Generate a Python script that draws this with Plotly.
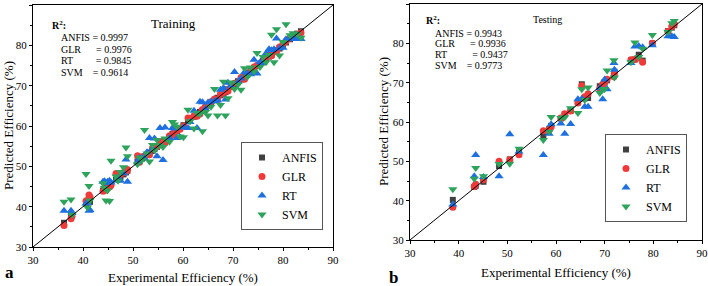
import plotly.graph_objects as go

# ---------------- Training data (panel a) ----------------
train_exp = [36.2, 37.6, 37.8, 40.6, 40.9, 41.2, 41.4, 44.0, 44.3, 44.6, 44.9, 45.3, 45.6,
             46.6, 47.0, 47.5, 48.1, 48.6, 48.9, 50.9, 51.3, 51.8, 52.3, 52.8, 53.3, 53.9,
             54.3, 54.8, 55.4, 56.0, 56.4, 57.3, 57.9, 58.3, 58.8, 59.4, 60.1, 61.0, 61.4,
             62.2, 62.8, 63.4, 63.9, 64.5, 65.0, 65.6, 66.3, 66.9, 67.5, 68.1, 68.5, 69.0,
             69.6, 70.3, 71.0, 71.6, 72.3, 72.9, 73.5, 74.2, 74.8, 75.4, 76.0, 76.6, 77.2,
             77.7, 78.2, 78.7, 79.3, 80.0, 80.6, 81.4, 82.0, 82.8, 83.6]
train_anfis = [36.0, 38.2, 37.8, 40.8, 41.0, 41.6, 41.2, 44.0, 44.2, 44.7, 44.8, 45.1, 45.7,
               46.8, 47.1, 47.4, 48.0, 48.5, 48.9, 51.2, 51.4, 51.9, 52.2, 52.8, 53.4, 53.8,
               54.3, 54.8, 55.3, 56.1, 56.3, 57.2, 58.0, 58.2, 58.7, 59.5, 60.2, 61.2, 61.5,
               62.3, 62.7, 63.5, 63.8, 64.6, 65.1, 65.5, 66.4, 67.0, 67.6, 68.0, 68.4, 69.1,
               69.7, 70.3, 71.1, 71.5, 72.4, 72.8, 73.6, 74.2, 74.9, 75.3, 76.1, 76.7, 77.2,
               77.6, 78.3, 78.8, 79.2, 80.1, 80.7, 81.5, 82.1, 82.9, 83.5]
train_glr = [35.3, 37.0, 37.6, 41.4, 41.6, 42.9, 42.4, 43.8, 44.0, 44.2, 44.6, 44.9, 45.3,
             48.2, 47.5, 48.0, 48.5, 48.7, 49.2, 52.6, 51.0, 52.4, 52.5, 53.0, 52.9, 54.5,
             54.6, 54.9, 55.6, 56.3, 55.8, 57.6, 57.7, 58.5, 58.9, 59.2, 60.0, 62.0, 61.8,
             62.5, 62.4, 63.0, 64.1, 64.8, 65.4, 66.0, 66.7, 66.5, 67.9, 68.3, 68.8, 68.7,
             69.9, 70.6, 70.8, 72.0, 71.6, 73.2, 73.4, 74.6, 75.0, 75.5, 75.8, 77.0, 77.5,
             77.4, 78.6, 78.5, 79.6, 80.4, 81.0, 81.8, 82.3, 82.6, 83.1]
train_rt = [39.0, 39.0, 38.4, 40.8, 40.9, 39.0, 39.2, 46.2, 46.3, 45.8, 46.2, 46.4, 46.0,
            46.5, 47.2, 46.4, 48.3, 51.7, 46.2, 51.0, 52.0, 52.1, 52.0, 53.5, 57.0, 54.4,
            56.9, 52.5, 59.5, 51.6, 59.6, 57.0, 59.5, 59.4, 57.0, 57.2, 59.6, 59.5, 61.0,
            63.8, 59.5, 66.0, 65.9, 64.2, 65.8, 66.0, 66.2, 66.3, 69.0, 69.4, 66.6, 70.7,
            70.0, 73.4, 70.9, 71.8, 73.3, 73.0, 72.8, 76.4, 73.0, 75.8, 75.6, 78.0, 79.0,
            78.8, 79.0, 81.7, 79.3, 79.4, 81.5, 81.6, 82.0, 81.6, 81.6]
train_svm = [41.2, 41.8, 38.0, 48.1, 39.8, 45.1, 41.5, 45.8, 44.6, 41.5, 44.0, 41.4, 51.4,
             47.5, 46.4, 48.6, 49.8, 54.7, 52.5, 50.5, 52.2, 51.6, 59.0, 53.2, 51.2, 55.3,
             54.0, 56.5, 55.2, 54.8, 56.9, 56.1, 61.0, 60.4, 59.8, 57.4, 57.2, 64.0, 61.2,
             59.4, 63.2, 63.0, 58.7, 63.5, 62.6, 64.8, 69.2, 62.6, 65.2, 71.0, 62.6, 66.9,
             70.8, 69.2, 70.3, 69.0, 74.3, 72.2, 74.5, 73.5, 78.1, 74.6, 77.1, 75.8, 77.6,
             82.6, 75.8, 84.0, 77.5, 80.8, 85.2, 82.5, 83.0, 82.8, 81.9]

# ---------------- Testing data (panel b) ----------------
test_exp = [38.8, 43.2, 43.5, 45.1, 48.3, 50.5, 52.4, 57.4, 58.6, 59.0, 61.0, 61.8, 63.0,
            64.5, 65.3, 65.9, 66.6, 69.0, 69.6, 70.0, 70.5, 71.9, 72.0, 75.4, 76.2, 77.0,
            77.8, 79.8, 83.0, 83.8, 84.3]
test_anfis = [40.2, 43.5, 43.8, 44.8, 48.8, 50.5, 52.3, 56.6, 58.2, 59.0, 60.9, 62.0, 62.8,
              65.0, 69.6, 66.0, 66.1, 69.1, 69.3, 70.0, 70.6, 72.0, 72.8, 75.6, 75.9, 77.1,
              75.6, 80.0, 83.1, 84.0, 84.6]
test_glr = [38.3, 43.6, 44.2, 45.3, 50.0, 50.4, 51.7, 57.8, 58.0, 58.8, 61.0, 62.1, 62.8,
            64.8, 69.2, 66.4, 67.2, 68.5, 69.6, 70.3, 70.9, 71.5, 72.3, 75.8, 75.9, 76.3,
            75.2, 80.0, 83.0, 84.3, 84.9]
test_rt = [39.0, 46.2, 51.6, 46.0, 46.2, 56.9, 52.5, 51.6, 57.0, 59.4, 59.6, 57.0, 59.5,
           65.8, 65.9, 63.9, 63.9, 68.6, 65.8, 70.8, 68.3, 75.0, 73.3, 75.0, 79.2, 79.3,
           79.0, 79.5, 81.8, 81.8, 81.6]
test_svm = [42.9, 45.6, 48.3, 46.2, 49.3, 49.4, 53.2, 55.4, 57.5, 61.3, 61.0, 61.2, 63.5,
            62.3, 68.3, 65.6, 68.8, 67.4, 68.2, 68.4, 73.1, 75.7, 71.3, 75.2, 80.2, 76.5,
            78.6, 82.1, 82.9, 85.1, 85.7]

diag_line = [30, 90]
axis_range = [30, 90]

models = ["ANFIS", "GLR", "RT", "SVM"]
colors = {"ANFIS": "#404040", "GLR": "#F03A3A", "RT": "#1E6FE0", "SVM": "#2DA35C"}
symbols = {"ANFIS": "square", "GLR": "circle", "RT": "triangle-up", "SVM": "triangle-down"}
sizes = {"ANFIS": 6, "GLR": 7, "RT": 8, "SVM": 8}

r2_train = {"ANFIS": "0.9997", "GLR": "0.9976", "RT": "0.9845", "SVM": "0.9614"}
r2_test = {"ANFIS": "0.9943", "GLR": "0.9936", "RT": "0.9437", "SVM": "0.9773"}

FONT = "Liberation Serif"

fig = go.Figure()

train_preds = {"ANFIS": train_anfis, "GLR": train_glr, "RT": train_rt, "SVM": train_svm}
test_preds = {"ANFIS": test_anfis, "GLR": test_glr, "RT": test_rt, "SVM": test_svm}

for m in models:
    fig.add_trace(go.Scatter(
        x=train_exp, y=train_preds[m], mode="markers", name=m,
        marker=dict(symbol=symbols[m], size=sizes[m], color=colors[m], line=dict(width=0)),
        xaxis="x", yaxis="y", legend="legend", cliponaxis=True))
fig.add_trace(go.Scatter(x=diag_line, y=diag_line, mode="lines",
                         line=dict(color="black", width=1), showlegend=False,
                         xaxis="x", yaxis="y", hoverinfo="skip"))

for m in models:
    fig.add_trace(go.Scatter(
        x=test_exp, y=test_preds[m], mode="markers", name=m,
        marker=dict(symbol=symbols[m], size=sizes[m], color=colors[m], line=dict(width=0)),
        xaxis="x2", yaxis="y2", legend="legend2", cliponaxis=True))
fig.add_trace(go.Scatter(x=diag_line, y=diag_line, mode="lines",
                         line=dict(color="black", width=1), showlegend=False,
                         xaxis="x2", yaxis="y2", hoverinfo="skip"))

W, H = 708, 286


def px_x(p):
    return p / W


def px_y(p):
    return 1 - p / H


def axis(domain, anchor):
    return dict(
        domain=domain, anchor=anchor, range=axis_range, tick0=30, dtick=10,
        ticks="outside", ticklen=3, tickwidth=1, tickcolor="black",
        showline=True, linecolor="black", linewidth=1, mirror=True,
        showgrid=False, zeroline=False, automargin=False,
        minor=dict(dtick=5, tick0=30, ticks="outside", ticklen=2, tickcolor="black", showgrid=False),
        tickfont=dict(family=FONT, size=11, color="black"),
    )


legend_common = dict(
    bgcolor="white", bordercolor="#555555", borderwidth=1,
    font=dict(family=FONT, size=12, color="black"),
    tracegroupgap=0, itemwidth=30, xanchor="right", yanchor="bottom",
)


def note(text, x, y, size, xanchor="center", angle=0):
    return dict(text=text, x=px_x(x), y=px_y(y), xref="paper", yref="paper",
                xanchor=xanchor, yanchor="middle", textangle=angle, showarrow=False,
                font=dict(family=FONT, size=size, color="black"))


annotations = [
    note("Experimental Efficiency (%)", 183, 277, 13),
    note("Experimental Efficiency (%)", 556, 272, 13),
    note("Predicted Efficiency (%)", 8, 126, 13, angle=-90),
    note("Predicted Efficiency (%)", 383, 122, 13, angle=-90),
    note("<b>a</b>", 3, 272, 17, xanchor="left"),
    note("<b>b</b>", 387, 277, 17, xanchor="left"),
    note("Training", 173, 23, 13),
    note("Testing", 547, 20, 10),
    note("<b>R<sup>2</sup>:</b>", 50, 25, 10, xanchor="left"),
    note("<b>R<sup>2</sup>:</b>", 424, 20, 10, xanchor="left"),
]

NB = "\u00a0"
pads_train = {"ANFIS": " ", "GLR": NB * 5 + " ", "RT": NB * 8 + " ", "SVM": NB * 3 + " "}
pads_test = {"ANFIS": " ", "GLR": NB * 5 + " ", "RT": NB * 9 + " ", "SVM": NB * 3 + " "}
ys_train = [37, 49, 60, 72]
ys_test = [33, 43.5, 54.5, 65]
for i, m in enumerate(models):
    annotations.append(note(f"{m}{pads_train[m]}= {r2_train[m]}", 59, ys_train[i], 10, xanchor="left"))
    annotations.append(note(f"{m}{pads_test[m]}= {r2_test[m]}", 433, ys_test[i], 10, xanchor="left"))

fig.update_layout(
    width=W, height=H, autosize=False,
    margin=dict(l=0, r=0, t=0, b=0, pad=0, autoexpand=False),
    paper_bgcolor="white", plot_bgcolor="white",
    font=dict(family=FONT, color="black"),
    xaxis=axis([px_x(33), px_x(333)], "y"),
    yaxis=axis([px_y(247), px_y(5)], "x"),
    xaxis2=axis([px_x(410), px_x(702)], "y2"),
    yaxis2=axis([px_y(240), px_y(4)], "x2"),
    legend=dict(x=px_x(323), y=px_y(230), **legend_common),
    legend2=dict(x=px_x(687), y=px_y(222), **legend_common),
    annotations=annotations,
    showlegend=True,
)

fig.write_html(
    "out.html",
    config={"displayModeBar": False},
    post_script="document.documentElement.style.margin='0';document.body.style.margin='0';"
                "document.body.style.padding='0';document.body.style.overflow='hidden';",
)
